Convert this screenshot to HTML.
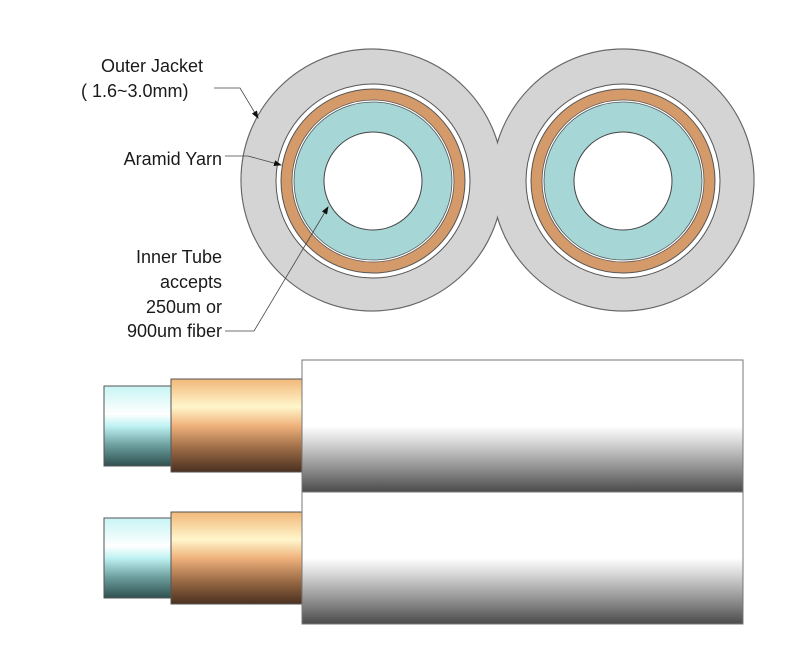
<!DOCTYPE html>
<html><head><meta charset="utf-8"><style>
html,body{margin:0;padding:0;background:#fff;}
svg{display:block;}
text{font-family:"Liberation Sans",Arial,sans-serif;font-size:18px;fill:#1a1a1a;}
</style></head><body>
<svg width="800" height="667" viewBox="0 0 800 667" xmlns="http://www.w3.org/2000/svg">
<defs>
<linearGradient id="teal" x1="0" y1="0" x2="0" y2="1">
<stop offset="0" stop-color="#c8f4f4"/><stop offset="0.35" stop-color="#ffffff"/><stop offset="0.5" stop-color="#bff2f2"/><stop offset="0.75" stop-color="#6a9c9c"/><stop offset="1" stop-color="#2f4f4f"/>
</linearGradient>
<linearGradient id="cop" x1="0" y1="0" x2="0" y2="1">
<stop offset="0" stop-color="#f2b87a"/><stop offset="0.3" stop-color="#fff6cc"/><stop offset="0.5" stop-color="#f0b27c"/><stop offset="0.75" stop-color="#9a6a45"/><stop offset="1" stop-color="#4a3020"/>
</linearGradient>
<linearGradient id="jk" x1="0" y1="0" x2="0" y2="1">
<stop offset="0" stop-color="#ffffff"/><stop offset="0.5" stop-color="#ffffff"/><stop offset="0.62" stop-color="#d8d8d8"/><stop offset="0.85" stop-color="#858585"/><stop offset="1" stop-color="#4a4a4a"/>
</linearGradient>
<marker id="ar" markerWidth="8" markerHeight="6" refX="7" refY="3" orient="auto" markerUnits="userSpaceOnUse"><path d="M0,0 L8,3 L0,6z" fill="#111"/></marker>
</defs>
<!-- outer jackets -->
<circle cx="372" cy="180" r="131" fill="#d4d4d4" stroke="#666" stroke-width="1.2"/>
<circle cx="623" cy="180" r="131" fill="#d4d4d4" stroke="#666" stroke-width="1.2"/>
<circle cx="372" cy="180" r="130.3" fill="#d4d4d4"/>
<circle cx="623" cy="180" r="130.3" fill="#d4d4d4"/>
<g>
<circle cx="373" cy="181" r="97" fill="#fff" stroke="#555" stroke-width="1"/>
<circle cx="373" cy="181" r="92" fill="#d49a6a" stroke="#555" stroke-width="1"/>
<circle cx="373" cy="181" r="81" fill="#fff" stroke="#555" stroke-width="0.8"/>
<circle cx="373" cy="181" r="79" fill="#a6d6d6" stroke="#555" stroke-width="0.8"/>
<circle cx="373" cy="181" r="49" fill="#fff" stroke="#444" stroke-width="1"/>
</g>
<g>
<circle cx="623" cy="181" r="97" fill="#fff" stroke="#555" stroke-width="1"/>
<circle cx="623" cy="181" r="92" fill="#d49a6a" stroke="#555" stroke-width="1"/>
<circle cx="623" cy="181" r="81" fill="#fff" stroke="#555" stroke-width="0.8"/>
<circle cx="623" cy="181" r="79" fill="#a6d6d6" stroke="#555" stroke-width="0.8"/>
<circle cx="623" cy="181" r="49" fill="#fff" stroke="#444" stroke-width="1"/>
</g>
<!-- labels -->
<text x="101" y="72">Outer Jacket</text>
<text x="81" y="97">( 1.6~3.0mm)</text>
<text x="222" y="165" text-anchor="end">Aramid Yarn</text>
<text x="222" y="263" text-anchor="end">Inner Tube</text>
<text x="222" y="288" text-anchor="end">accepts</text>
<text x="222" y="313" text-anchor="end">250um or</text>
<text x="222" y="337" text-anchor="end">900um fiber</text>
<polyline points="214,88 240,88 258,118" fill="none" stroke="#444" stroke-width="0.8" marker-end="url(#ar)"/>
<polyline points="225,156 248,156 281,165" fill="none" stroke="#444" stroke-width="0.8" marker-end="url(#ar)"/>
<polyline points="225,331 254,331 328,207" fill="none" stroke="#444" stroke-width="0.8" marker-end="url(#ar)"/>
<!-- side views -->
<rect x="104" y="386" width="67" height="80" fill="url(#teal)" stroke="#555" stroke-width="1"/>
<rect x="171" y="379" width="131" height="93" fill="url(#cop)" stroke="#555" stroke-width="1"/>
<rect x="302" y="360" width="441" height="132" fill="url(#jk)" stroke="#777" stroke-width="1"/>
<rect x="104" y="518" width="67" height="80" fill="url(#teal)" stroke="#555" stroke-width="1"/>
<rect x="171" y="512" width="131" height="92" fill="url(#cop)" stroke="#555" stroke-width="1"/>
<rect x="302" y="492" width="441" height="132" fill="url(#jk)" stroke="#777" stroke-width="1"/>
</svg>
</body></html>
